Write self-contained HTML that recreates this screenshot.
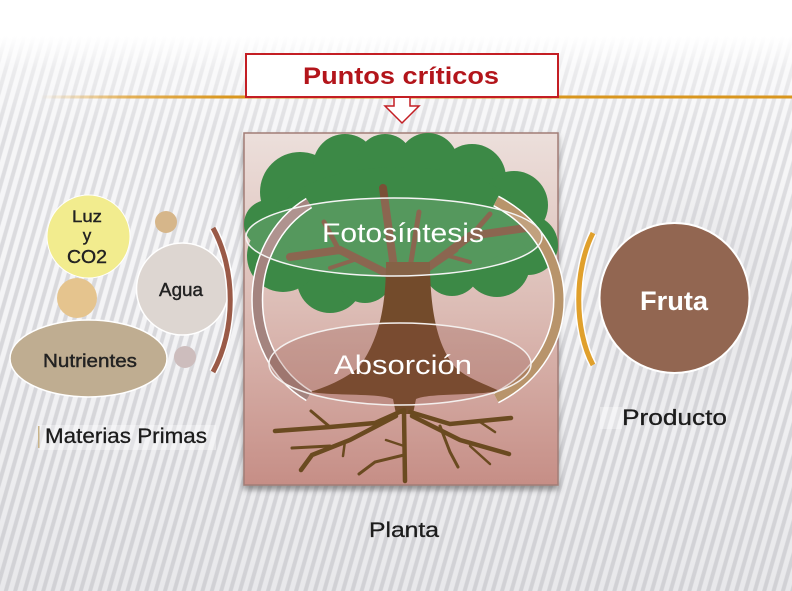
<!DOCTYPE html>
<html><head><meta charset="utf-8"><style>
html,body{margin:0;padding:0;}
body{width:792px;height:591px;overflow:hidden;position:relative;background:#e4e4e6;font-family:"Liberation Sans",sans-serif;}
.bg{position:absolute;left:0;top:0;width:792px;height:591px;
background:
linear-gradient(to bottom,#ffffff 0px,#ffffff 36px,rgba(255,255,255,0.55) 70px,rgba(255,255,255,0.25) 130px,rgba(255,255,255,0.1) 300px,rgba(200,200,204,0.25) 591px),
radial-gradient(ellipse 130px 150px at 700px 290px,rgba(190,190,195,0.35),rgba(190,190,195,0) 100%),
repeating-linear-gradient(106deg,#f3f3f5 0px,#f3f3f5 4px,#d4d4d8 5px,#d4d4d8 8px,#f3f3f5 9px);}
svg{position:absolute;left:0;top:0;}
</style></head><body>
<div class="bg"></div>
<svg width="792" height="591" viewBox="0 0 792 591" xmlns="http://www.w3.org/2000/svg">
<defs>
<linearGradient id="og" x1="0" x2="1" y1="0" y2="0">
<stop offset="0" stop-color="#e0a030" stop-opacity="0"/>
<stop offset="0.12" stop-color="#e0a030" stop-opacity="0.8"/>
<stop offset="0.25" stop-color="#d9961e"/>
<stop offset="1" stop-color="#d9961e"/>
</linearGradient>
<linearGradient id="pg" x1="0" x2="0" y1="0" y2="1">
<stop offset="0" stop-color="#ecdfdb"/>
<stop offset="0.5" stop-color="#dcbcb5"/>
<stop offset="1" stop-color="#c68e86"/>
</linearGradient>
<filter id="sh" x="-10%" y="-10%" width="120%" height="120%">
<feDropShadow dx="0" dy="4" stdDeviation="3" flood-color="#555" flood-opacity="0.6"/>
</filter>
</defs>

<!-- orange line -->
<rect x="40" y="95.5" width="752" height="3" fill="url(#og)"/>

<!-- title box -->
<rect x="246" y="54" width="312" height="43" fill="#fff" stroke="#c41e24" stroke-width="2"/>
<text x="303" y="84" font-family="Liberation Sans, sans-serif" font-weight="bold" font-size="24" fill="#b3151b" textLength="196" lengthAdjust="spacingAndGlyphs">Puntos críticos</text>
<!-- arrow -->
<path d="M394,98 L394,106 L385,106 L402,123 L419,106 L410,106 L410,98" fill="#fff" stroke="#c41e24" stroke-width="1.5"/>

<!-- plant box -->
<rect x="244" y="133" width="314" height="352" fill="url(#pg)" stroke="#a27d76" stroke-width="1.5" filter="url(#sh)"/>

<!-- canopy -->
<g fill="#3c8946">
<circle cx="300" cy="192" r="40"/>
<circle cx="345" cy="166" r="32"/>
<circle cx="385" cy="162" r="28"/>
<circle cx="428" cy="163" r="30"/>
<circle cx="472" cy="178" r="34"/>
<circle cx="514" cy="205" r="34"/>
<circle cx="528" cy="245" r="30"/>
<circle cx="497" cy="264" r="33"/>
<circle cx="452" cy="268" r="28"/>
<circle cx="330" cy="280" r="33"/>
<circle cx="283" cy="256" r="36"/>
<circle cx="268" cy="224" r="24"/>
<circle cx="365" cy="275" r="28"/>
<ellipse cx="400" cy="222" rx="125" ry="55"/>
</g>
<!-- branches -->
<g stroke="#7a5036" stroke-linecap="round" fill="none">
<path d="M400,280 L340,250 L290,257" stroke-width="8"/>
<path d="M340,252 L324,222" stroke-width="5"/>
<path d="M395,275 L383,188" stroke-width="8"/>
<path d="M410,268 L419,212" stroke-width="5"/>
<path d="M418,275 L470,236 L526,228" stroke-width="8"/>
<path d="M470,237 L490,214" stroke-width="5"/>
<path d="M424,272 L456,250" stroke-width="5"/>
<path d="M360,258 L330,268" stroke-width="4"/>
<path d="M445,255 L470,262" stroke-width="4"/>
</g>
<!-- trunk -->
<path d="M386,262 L430,262 C430,318 440,350 456,368 C470,380 488,385 499,391 C470,396 430,393 416,399 L413,414 L396,414 L393,399 C378,393 335,396 310,392 C330,386 350,376 360,366 C378,340 386,310 386,262 Z" fill="#734b2b"/>
<!-- roots -->
<g stroke="#6a4a20" stroke-linecap="round" fill="none" stroke-width="4">
<path d="M404,410 L375,423 L330,427 L275,431" stroke-width="4.5"/>
<path d="M330,427 L311,411" stroke-width="3"/>
<path d="M396,416 L350,440 L312,455 L301,470" stroke-width="4.5"/>
<path d="M330,446 L292,448" stroke-width="3"/>
<path d="M345,441 L343,456" stroke-width="2.5"/>
<path d="M404,412 L405,481" stroke-width="4.5"/>
<path d="M404,455 L375,462 L359,474" stroke-width="3"/>
<path d="M404,446 L386,440" stroke-width="2.5"/>
<path d="M410,412 L450,424 L511,418" stroke-width="4.5"/>
<path d="M412,416 L460,440 L509,454" stroke-width="4.5"/>
<path d="M440,426 L450,452 L458,467" stroke-width="3"/>
<path d="M470,446 L490,464" stroke-width="2.5"/>
<path d="M480,422 L495,432" stroke-width="2.5"/>
</g>

<!-- cycle arcs -->
<path d="M309,203 C240,245 240,355 309,396" fill="none" stroke="#fff" stroke-width="12"/>
<path d="M309,203 C240,245 240,355 309,396" fill="none" stroke="#a4847f" stroke-width="9"/>
<path d="M496,201 C580,245 580,355 496,398" fill="none" stroke="#fff" stroke-width="12"/>
<path d="M496,201 C580,245 580,355 496,398" fill="none" stroke="#b8946b" stroke-width="9"/>

<!-- ellipses -->
<ellipse cx="394" cy="237" rx="148" ry="39" fill="#ffffff" fill-opacity="0.13" stroke="#f4f4f4" stroke-width="1.5"/>
<text x="322" y="242" font-family="Liberation Sans, sans-serif" font-size="27" fill="#fff" textLength="162" lengthAdjust="spacingAndGlyphs">Fotosíntesis</text>
<ellipse cx="400" cy="364" rx="131" ry="41" fill="#8a4a40" fill-opacity="0.25" stroke="#f4f0ee" stroke-width="1.5"/>
<text x="334" y="374" font-family="Liberation Sans, sans-serif" font-size="27" fill="#fff" textLength="138" lengthAdjust="spacingAndGlyphs">Absorción</text>

<!-- left side -->
<circle cx="88.5" cy="236.5" r="41.5" fill="#f2ec8e" stroke="#fff" stroke-width="1"/>
<g font-family="Liberation Sans, sans-serif" fill="#222" stroke="#222" stroke-width="0.4">
<text x="72" y="222" font-size="17" textLength="30" lengthAdjust="spacingAndGlyphs">Luz</text>
<text x="87" y="241" text-anchor="middle" font-size="17">y</text>
<text x="67" y="263" font-size="18" textLength="40" lengthAdjust="spacingAndGlyphs">CO2</text>
</g>
<circle cx="166" cy="222" r="11" fill="#d6b68a"/>
<circle cx="77" cy="298" r="20" fill="#e5c48e"/>
<circle cx="182.5" cy="289" r="46" fill="#ddd6d1" stroke="#fff" stroke-width="1.5"/>
<text x="159" y="296" font-family="Liberation Sans, sans-serif" font-size="18" fill="#222" stroke="#222" stroke-width="0.4" textLength="44" lengthAdjust="spacingAndGlyphs">Agua</text>
<circle cx="185" cy="357" r="11" fill="#cdbdbd"/>
<ellipse cx="88.5" cy="358.5" rx="78.5" ry="38.5" fill="#bfad91" stroke="#fff" stroke-width="1.5"/>
<text x="43" y="367" font-family="Liberation Sans, sans-serif" font-size="18" fill="#222" stroke="#222" stroke-width="0.4" textLength="94" lengthAdjust="spacingAndGlyphs">Nutrientes</text>
<path d="M213,228 C236,270 236,330 213,372" fill="none" stroke="#fff" stroke-width="8"/>
<path d="M213,228 C236,270 236,330 213,372" fill="none" stroke="#9a5a47" stroke-width="5"/>

<rect x="38" y="425" width="178" height="25" fill="#ffffff" fill-opacity="0.35"/>
<rect x="38" y="426" width="1.5" height="22" fill="#c9b48a"/>
<text x="45" y="443" font-family="Liberation Sans, sans-serif" font-size="21" fill="#1c1c1c" stroke="#1c1c1c" stroke-width="0.3" textLength="162" lengthAdjust="spacingAndGlyphs">Materias Primas</text>

<!-- right side -->
<path d="M593,233 C574,270 574,330 593,365" fill="none" stroke="#fff" stroke-width="8"/>
<path d="M593,233 C574,270 574,330 593,365" fill="none" stroke="#e0a02c" stroke-width="5"/>
<circle cx="674.5" cy="298" r="75" fill="#926651" stroke="#fff" stroke-width="2"/>
<text x="640" y="310" font-family="Liberation Sans, sans-serif" font-weight="bold" font-size="27" fill="#fff" textLength="68" lengthAdjust="spacingAndGlyphs">Fruta</text>
<rect x="600" y="407" width="22" height="22" fill="#ffffff" fill-opacity="0.35"/>
<text x="622" y="425" font-family="Liberation Sans, sans-serif" font-size="22" fill="#1c1c1c" stroke="#1c1c1c" stroke-width="0.3" textLength="105" lengthAdjust="spacingAndGlyphs">Producto</text>

<!-- planta -->
<text x="369" y="537" font-family="Liberation Sans, sans-serif" font-size="21" fill="#1c1c1c" stroke="#1c1c1c" stroke-width="0.3" textLength="70" lengthAdjust="spacingAndGlyphs">Planta</text>
</svg>
</body></html>
